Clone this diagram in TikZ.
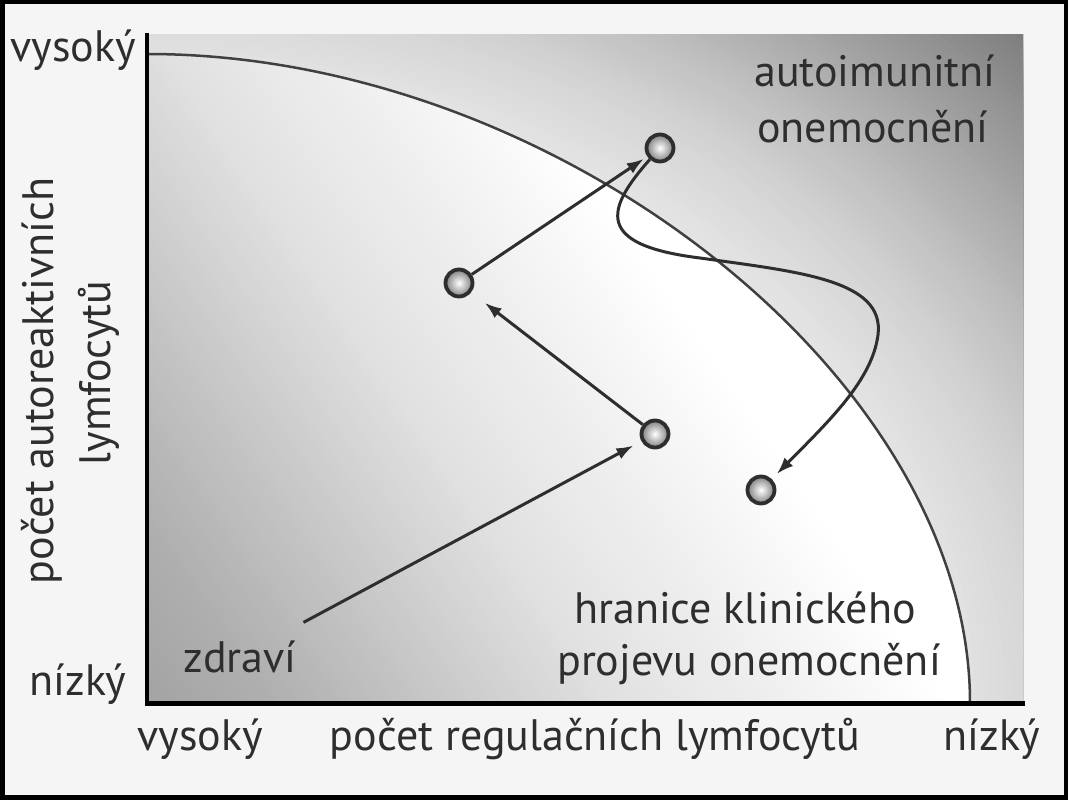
\documentclass[tikz,border=0pt]{standalone}
\usepackage{fontspec}
\setmainfont{PT Sans}
\usetikzlibrary{arrows.meta}
\definecolor{ink}{HTML}{2E2E2E}
\tikzset{
  lbl/.style={font=\fontsize{44}{52}\selectfont, text=ink, anchor=base, inner sep=0pt},
  state/.style={circle, minimum size=27pt, inner sep=0pt, draw=ink, line width=3.8pt, inner color=white, outer color=black!50},
  arr/.style={draw=ink, line width=3pt, -{Latex[length=17pt,width=12pt]}},
  bound/.style={draw=black!75, line width=2.5pt},
  axis/.style={draw=black, line width=4.5pt},
}
\begin{document}
\begin{tikzpicture}[x=1pt,y=-1pt]
\useasboundingbox (0,0) rectangle (1077,800);
\fill[white] (0,0) rectangle (1077,800);
\fill[black!4] (2,2) rectangle (1066,797);
% outer region: elliptical gradient around the origin
\begin{scope}
  \clip (147,35) rectangle (1023,703);
  \foreach \i in {0,...,60}{
    \pgfmathsetmacro\rr{1.5-0.55*\i/60}
    \pgfmathsetmacro\vv{\rr<1.1 ? 9+8*(\rr-0.95)/0.15 : (\rr<1.2 ? 17+8*(\rr-1.1)/0.1 : (\rr<1.3 ? 25+9*(\rr-1.2)/0.1 : 34+18*(\rr-1.3)/0.2))}
    \fill[black!\vv] (147,703) ellipse [x radius=823*\rr+0.5, y radius=649*\rr+0.5];
  }
\end{scope}
% inner region: diagonal gradient
\begin{scope}
  \clip (147,703) -- (147,54) .. controls (558.5,54) and (970,379) .. (970,703) -- cycle;
  \foreach \i in {0,...,100}{
    \pgfmathsetmacro\cc{0.85*(1-\i/100)}
    \pgfmathsetmacro\vv{max(0,\cc<0.1 ? 36-45*\cc : (\cc<0.37 ? 31.5-19.5*(\cc-0.1)/0.27 : 12-12*(\cc-0.37)/0.27))}
    \fill[black!\vv] (147,703) -- ({147+\cc*1266+1},703) -- (147,{703-\cc*1854-1}) -- cycle;
  }
\end{scope}
\draw[bound] (147,54) .. controls (558.5,54) and (970,379) .. (970,703);
\draw[axis] (147,33) -- (147,705);
\draw[axis, line width=5pt] (145,703) -- (1025,703);
\draw[line width=4.5pt] (2.25,2.25) rectangle (1066,797.5);

% labels
\node[lbl] (tv) at (73,62) {vysoký};
\node[lbl] (ln) at (78,695) {nízký};
\node[lbl] (bv) at (200,750) {vysoký};
\node[lbl] (xl) at (595,750) {počet regulačních lymfocytů};
\node[lbl] (bn) at (992,750) {nízký};
\node[lbl, rotate=90] (yl1) at (53,381) {počet autoreaktivních};
\node[lbl, rotate=90] (yl2) at (110,373) {lymfocytů};
\node[lbl] (ai1) at (875,86) {autoimunitní};
\node[lbl] (ai2) at (873,142) {onemocnění};
\node[lbl] (hr1) at (745,623) {hranice klinického};
\node[lbl] (hr2) at (749,675) {projevu onemocnění};
\node[lbl] (zdravi) at (240,672) {zdraví};

% states
\node[state] (A) at (660,148) {};
\node[state] (B) at (459,283) {};
\node[state] (C) at (655,434) {};
\node[state] (D) at (761,490) {};

% arrows
\draw[arr, shorten <=72pt, shorten >=9pt] (zdravi.center) -- (C);
\draw[arr, shorten >=17pt] (C) -- (B);
\draw[arr, shorten >=4pt] (B) -- (A);
\draw[arr, shorten >=7pt] (A) .. controls (605,210) and (595,245) .. (700,258)
  .. controls (800,272) and (885,280) .. (878,335)
  .. controls (872,380) and (830,420) .. (D);
\end{tikzpicture}
\end{document}
